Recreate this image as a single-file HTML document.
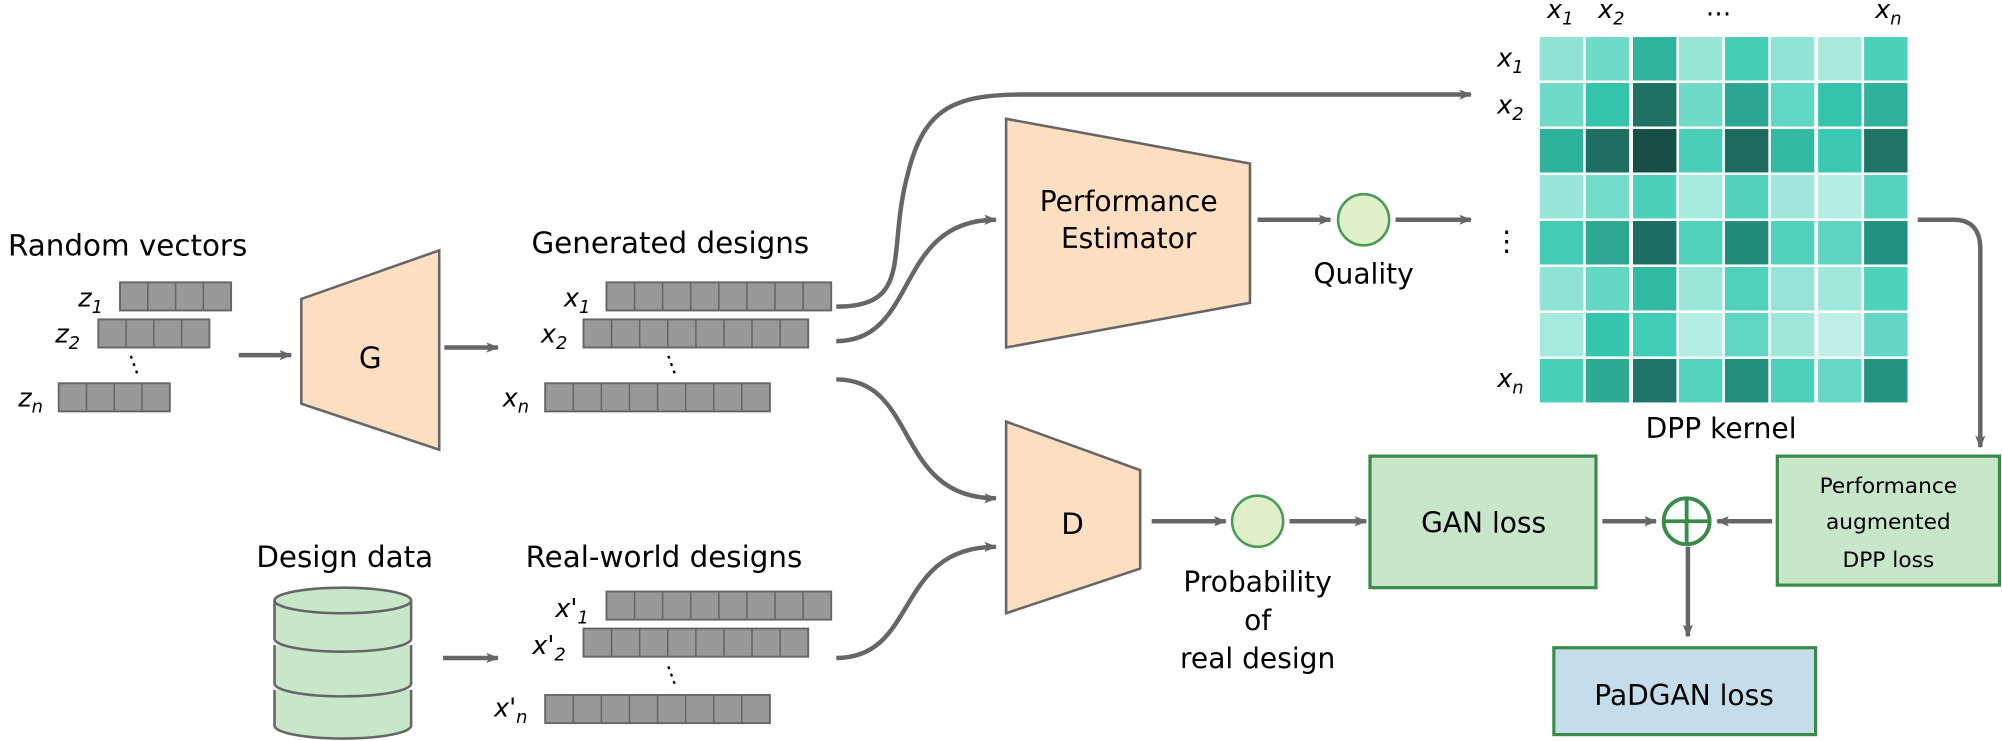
<!DOCTYPE html>
<html><head><meta charset="utf-8"><style>
html,body{margin:0;padding:0;background:#fff;}
svg{display:block;}
text{font-family:"DejaVu Sans","Liberation Sans",sans-serif;fill:#000;}
.i{font-style:italic;}
</style></head><body>
<svg width="2002" height="741" viewBox="0 0 1568 580" preserveAspectRatio="none" xmlns="http://www.w3.org/2000/svg">
<defs>
<marker id="a" markerWidth="10" markerHeight="8" refX="9" refY="4" orient="auto" markerUnits="userSpaceOnUse">
<path d="M0,0 L10,4 L0,8 L2,4 z" fill="#666"/></marker>
<g id="b4"><rect x="0" y="0" width="87" height="22" fill="#999" stroke="#666" stroke-width="1.5"/>
<path d="M21.75,0v22M43.5,0v22M65.25,0v22" stroke="#666" stroke-width="1.2"/></g>
<g id="b8"><rect x="0" y="0" width="176" height="22" fill="#999" stroke="#666" stroke-width="1.5"/>
<path d="M22,0v22M44,0v22M66,0v22M88,0v22M110,0v22M132,0v22M154,0v22" stroke="#666" stroke-width="1.2"/></g>
</defs>
<g stroke="#666" stroke-width="3.5" fill="none" marker-end="url(#a)">
<line x1="187" y1="278" x2="228" y2="278"/>
<line x1="348" y1="272" x2="390" y2="272"/>
<line x1="347" y1="515" x2="390" y2="515"/>
<path d="M655,240 C715,240 695,200 710,140 C722,90 740,74 800,74 L1152,74"/>
<path d="M655,267 C720,267 700,172 780,172"/>
<path d="M655,297 C720,297 700,390 780,390"/>
<path d="M655,515 C720,515 700,428 780,428"/>
<line x1="985" y1="172" x2="1042" y2="172"/>
<line x1="1093" y1="172" x2="1152" y2="172"/>
<path d="M1502,172 L1530,172 Q1551,172 1551,195 L1551,350"/>
<line x1="902" y1="408" x2="960" y2="408"/>
<line x1="1010" y1="408" x2="1070" y2="408"/>
<line x1="1255" y1="408" x2="1297" y2="408"/>
<line x1="1388" y1="408" x2="1345" y2="408"/>
<line x1="1322" y1="428" x2="1322" y2="498"/>
</g>
<text x="100" y="200" font-size="23" text-anchor="middle">Random vectors</text>
<text x="71" y="240" font-size="20" class="i" text-anchor="middle">z<tspan font-size="14" dy="5">1</tspan></text>
<text x="53" y="268" font-size="20" class="i" text-anchor="middle">z<tspan font-size="14" dy="5">2</tspan></text>
<text x="24" y="318" font-size="20" class="i" text-anchor="middle">z<tspan font-size="14" dy="5">n</tspan></text>
<use href="#b4" x="94" y="221"/><use href="#b4" x="77" y="250"/><use href="#b4" x="46" y="300"/>
<text x="97" y="294" font-size="18" transform="rotate(-20 97 290)">⋮</text>
<polygon points="236,234 344,196 344,352 236,316" fill="#ffdfc2" stroke="#666" stroke-width="2"/>
<text x="290" y="288" font-size="23" text-anchor="middle">G</text>
<text x="525" y="198" font-size="23" text-anchor="middle">Generated designs</text>
<text x="452" y="240" font-size="20" class="i" text-anchor="middle">x<tspan font-size="14" dy="5">1</tspan></text>
<text x="434" y="268" font-size="20" class="i" text-anchor="middle">x<tspan font-size="14" dy="5">2</tspan></text>
<text x="404" y="318" font-size="20" class="i" text-anchor="middle">x<tspan font-size="14" dy="5">n</tspan></text>
<use href="#b8" x="475" y="221"/><use href="#b8" x="457" y="250"/><use href="#b8" x="427" y="300"/>
<text x="518" y="294" font-size="18" transform="rotate(-20 518 290)">⋮</text>
<text x="270" y="444" font-size="23" text-anchor="middle">Design data</text>
<text x="520" y="444" font-size="23" text-anchor="middle">Real-world designs</text>
<text x="448" y="483" font-size="20" class="i" text-anchor="middle">x'<tspan font-size="14" dy="5">1</tspan></text>
<text x="430" y="512" font-size="20" class="i" text-anchor="middle">x'<tspan font-size="14" dy="5">2</tspan></text>
<text x="400" y="561" font-size="20" class="i" text-anchor="middle">x'<tspan font-size="14" dy="5">n</tspan></text>
<use href="#b8" x="475" y="463"/><use href="#b8" x="457" y="492"/><use href="#b8" x="427" y="544"/>
<text x="518" y="537" font-size="18" transform="rotate(-20 518 533)">⋮</text>
<g fill="#c8e6c9" stroke="#666" stroke-width="2">
<path d="M215,540 v28 a53,10 0 0 0 107,0 v-28"/>
<path d="M215,505 v30 a53,10 0 0 0 107,0 v-30"/>
<path d="M215,470 v30 a53,10 0 0 0 107,0 v-30"/>
<ellipse cx="268.5" cy="470" rx="53.5" ry="10"/>
</g>
<polygon points="788,93 979,128 979,237 788,272" fill="#ffdfc2" stroke="#666" stroke-width="2"/>
<text x="884" y="165" font-size="22" text-anchor="middle">Performance</text>
<text x="884" y="194" font-size="22" text-anchor="middle">Estimator</text>
<circle cx="1068" cy="172" r="20" fill="#dff0c8" stroke="#4a9a5a" stroke-width="2"/>
<text x="1068" y="222" font-size="22" text-anchor="middle">Quality</text>
<polygon points="788,330 893,368 893,445 788,480" fill="#ffdfc2" stroke="#666" stroke-width="2"/>
<text x="840" y="418" font-size="23" text-anchor="middle">D</text>
<circle cx="985" cy="408" r="20" fill="#dff0c8" stroke="#4a9a5a" stroke-width="2"/>
<text x="985" y="463" font-size="22" text-anchor="middle">Probability</text>
<text x="985" y="493" font-size="22" text-anchor="middle">of</text>
<text x="985" y="523" font-size="22" text-anchor="middle">real design</text>
<rect x="1073" y="357" width="177" height="103" fill="#c8e6c9" stroke="#3a8a4a" stroke-width="2.5"/>
<text x="1162" y="417" font-size="22" text-anchor="middle">GAN loss</text>
<rect x="1392" y="357" width="174" height="101" fill="#c8e6c9" stroke="#3a8a4a" stroke-width="2.5"/>
<text x="1479" y="386" font-size="17" text-anchor="middle">Performance</text>
<text x="1479" y="414" font-size="17" text-anchor="middle">augmented</text>
<text x="1479" y="444" font-size="17" text-anchor="middle">DPP loss</text>
<circle cx="1321" cy="408" r="18" fill="none" stroke="#3a8a4a" stroke-width="3"/>
<path d="M1303,408h36M1321,390v36" stroke="#3a8a4a" stroke-width="3"/>
<rect x="1217" y="507" width="205" height="68" fill="#c5dcea" stroke="#3a8a4a" stroke-width="2.5"/>
<text x="1319" y="552" font-size="22" text-anchor="middle">PaDGAN loss</text>
<g id="m"></g>
<text x="1183" y="52" font-size="20" class="i" text-anchor="middle">x<tspan font-size="14" dy="5">1</tspan></text>
<text x="1183" y="89" font-size="20" class="i" text-anchor="middle">x<tspan font-size="14" dy="5">2</tspan></text>
<text x="1183" y="303" font-size="20" class="i" text-anchor="middle">x<tspan font-size="14" dy="5">n</tspan></text>
<text x="1180" y="196" font-size="22" text-anchor="middle">⋮</text>
<text x="1222" y="14" font-size="20" class="i" text-anchor="middle">x<tspan font-size="14" dy="5">1</tspan></text>
<text x="1262" y="14" font-size="20" class="i" text-anchor="middle">x<tspan font-size="14" dy="5">2</tspan></text>
<text x="1346" y="12" font-size="20" text-anchor="middle">…</text>
<text x="1479" y="14" font-size="20" class="i" text-anchor="middle">x<tspan font-size="14" dy="5">n</tspan></text>
<text x="1348" y="343" font-size="22" text-anchor="middle">DPP kernel</text>
<g>
<!-- matrix -->
<rect x="1206" y="29" width="34" height="34" fill="#8fe3d4"/><rect x="1242" y="29" width="34" height="34" fill="#6fdac8"/><rect x="1279" y="29" width="34" height="34" fill="#30b59c"/><rect x="1315" y="29" width="34" height="34" fill="#98e6d8"/><rect x="1351" y="29" width="34" height="34" fill="#45cdb6"/><rect x="1387" y="29" width="34" height="34" fill="#90e3d5"/><rect x="1424" y="29" width="34" height="34" fill="#a8e9de"/><rect x="1460" y="29" width="34" height="34" fill="#4bd0b9"/>
<rect x="1206" y="65" width="34" height="34" fill="#6fdac8"/><rect x="1242" y="65" width="34" height="34" fill="#34c4ad"/><rect x="1279" y="65" width="34" height="34" fill="#1f7163"/><rect x="1315" y="65" width="34" height="34" fill="#70dac9"/><rect x="1351" y="65" width="34" height="34" fill="#2aa691"/><rect x="1387" y="65" width="34" height="34" fill="#61d6c3"/><rect x="1424" y="65" width="34" height="34" fill="#34c4ae"/><rect x="1460" y="65" width="34" height="34" fill="#2fb19a"/>
<rect x="1206" y="101" width="34" height="34" fill="#2fb29a"/><rect x="1242" y="101" width="34" height="34" fill="#1f7063"/><rect x="1279" y="101" width="34" height="34" fill="#174e46"/><rect x="1315" y="101" width="34" height="34" fill="#49cfb8"/><rect x="1351" y="101" width="34" height="34" fill="#1d6b5f"/><rect x="1387" y="101" width="34" height="34" fill="#31b9a2"/><rect x="1424" y="101" width="34" height="34" fill="#3bc9b3"/><rect x="1460" y="101" width="34" height="34" fill="#1f7466"/>
<rect x="1206" y="137" width="34" height="34" fill="#9ae5d9"/><rect x="1242" y="137" width="34" height="34" fill="#75dbcb"/><rect x="1279" y="137" width="34" height="34" fill="#4dd0b9"/><rect x="1315" y="137" width="34" height="34" fill="#a5eade"/><rect x="1351" y="137" width="34" height="34" fill="#52d1bc"/><rect x="1387" y="137" width="34" height="34" fill="#a0e6dc"/><rect x="1424" y="137" width="34" height="34" fill="#b4ede4"/><rect x="1460" y="137" width="34" height="34" fill="#56d3be"/>
<rect x="1206" y="173" width="34" height="34" fill="#42ccb5"/><rect x="1242" y="173" width="34" height="34" fill="#2da892"/><rect x="1279" y="173" width="34" height="34" fill="#1d6e62"/><rect x="1315" y="173" width="34" height="34" fill="#50d1bb"/><rect x="1351" y="173" width="34" height="34" fill="#228c7a"/><rect x="1387" y="173" width="34" height="34" fill="#50d1bb"/><rect x="1424" y="173" width="34" height="34" fill="#5fd5c1"/><rect x="1460" y="173" width="34" height="34" fill="#229280"/>
<rect x="1206" y="209" width="34" height="34" fill="#8fe3d4"/><rect x="1242" y="209" width="34" height="34" fill="#63d7c4"/><rect x="1279" y="209" width="34" height="34" fill="#32b9a1"/><rect x="1315" y="209" width="34" height="34" fill="#9be6d9"/><rect x="1351" y="209" width="34" height="34" fill="#4fd1bb"/><rect x="1387" y="209" width="34" height="34" fill="#96e4d8"/><rect x="1424" y="209" width="34" height="34" fill="#a0e7dc"/><rect x="1460" y="209" width="34" height="34" fill="#4ed1bb"/>
<rect x="1206" y="245" width="34" height="34" fill="#a6e9df"/><rect x="1242" y="245" width="34" height="34" fill="#36c5ae"/><rect x="1279" y="245" width="34" height="34" fill="#40ccb6"/><rect x="1315" y="245" width="34" height="34" fill="#b3ede3"/><rect x="1351" y="245" width="34" height="34" fill="#5fd5c2"/><rect x="1387" y="245" width="34" height="34" fill="#9fe7db"/><rect x="1424" y="245" width="34" height="34" fill="#c0efe8"/><rect x="1460" y="245" width="34" height="34" fill="#64d7c4"/>
<rect x="1206" y="281" width="34" height="34" fill="#48cfb8"/><rect x="1242" y="281" width="34" height="34" fill="#2caa93"/><rect x="1279" y="281" width="34" height="34" fill="#1e7466"/><rect x="1315" y="281" width="34" height="34" fill="#55d2bd"/><rect x="1351" y="281" width="34" height="34" fill="#238e7b"/><rect x="1387" y="281" width="34" height="34" fill="#4fd0ba"/><rect x="1424" y="281" width="34" height="34" fill="#67d8c6"/><rect x="1460" y="281" width="34" height="34" fill="#239480"/>
</g>
</svg>
</body></html>
